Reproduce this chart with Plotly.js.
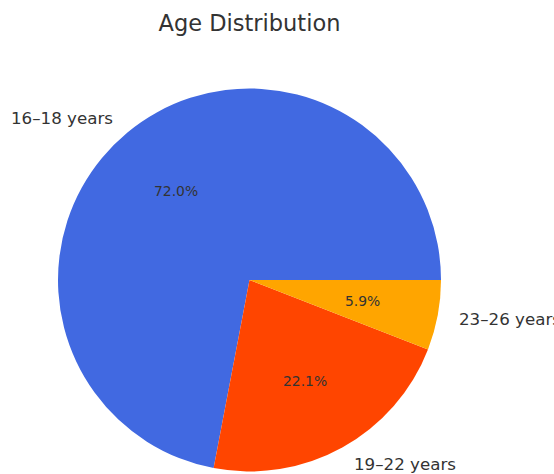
<!DOCTYPE html>
<html>
<head>
<meta charset="utf-8">
<script src="https://cdn.plot.ly/plotly-3.0.1.min.js"></script>
<style>html,body{margin:0;padding:0;background:#fff;}</style>
</head>
<body>
<div id="chart" style="width:554px;height:474px;"></div>
<script>
const categories = ["16\u201318 years", "19\u201322 years", "23\u201326 years"];
const shares = [72.0, 22.1, 5.9];
const sliceColors = ["#4169E1", "#FF4500", "#FFA500"];

const W = 554, H = 474;
const cx = 249.5, cy = 280, R = 191.5;
const dom = {
  x: [(cx - R) / W, (cx + R) / W],
  y: [1 - (cy + R) / H, 1 - (cy - R) / H]
};

const total = shares.reduce((a, b) => a + b, 0);
const annotations = [];
let start = 0;
shares.forEach((v, i) => {
  const frac = v / total;
  const mid = (start + frac / 2) * 2 * Math.PI;
  start += frac;
  const c = Math.cos(mid), s = Math.sin(mid);
  // outer label at 1.1 R
  const lx = cx + 1.1 * R * c, ly = cy - 1.1 * R * s;
  annotations.push({
    text: categories[i], xref: "paper", yref: "paper",
    x: lx / W, y: 1 - ly / H,
    xanchor: c >= 0 ? "left" : "right", yanchor: "middle",
    showarrow: false,
    font: {family: "DejaVu Sans", size: 16.7, color: "#333333"}
  });
  // percent at 0.6 R
  const px = cx + 0.6 * R * c, py = cy - 0.6 * R * s;
  annotations.push({
    text: (100 * frac).toFixed(1) + "%", xref: "paper", yref: "paper",
    x: px / W, y: 1 - py / H,
    xanchor: "center", yanchor: "middle",
    showarrow: false,
    font: {family: "DejaVu Sans", size: 13.9, color: "#333333"}
  });
});

// first slice starts at 3 o'clock and runs counterclockwise
const rot = 90 - 360 * shares[0] / total;

const data = [{
  type: "pie",
  labels: categories,
  values: shares,
  marker: {colors: sliceColors, line: {width: 0}},
  sort: false,
  direction: "counterclockwise",
  rotation: rot,
  textinfo: "none",
  hoverinfo: "label+percent",
  showlegend: false,
  domain: dom
}];

const layout = {
  width: W, height: H,
  margin: {l: 0, r: 0, t: 0, b: 0},
  paper_bgcolor: "#ffffff",
  plot_bgcolor: "#ffffff",
  showlegend: false,
  title: {
    text: "Age Distribution",
    x: cx / W, xanchor: "center", xref: "paper",
    y: 1 - 23 / H, yanchor: "middle", yref: "paper",
    font: {family: "DejaVu Sans", size: 22.5, color: "#333333"}
  },
  annotations: annotations
};

Plotly.newPlot("chart", data, layout, {displayModeBar: false, staticPlot: true});
</script>
</body>
</html>
